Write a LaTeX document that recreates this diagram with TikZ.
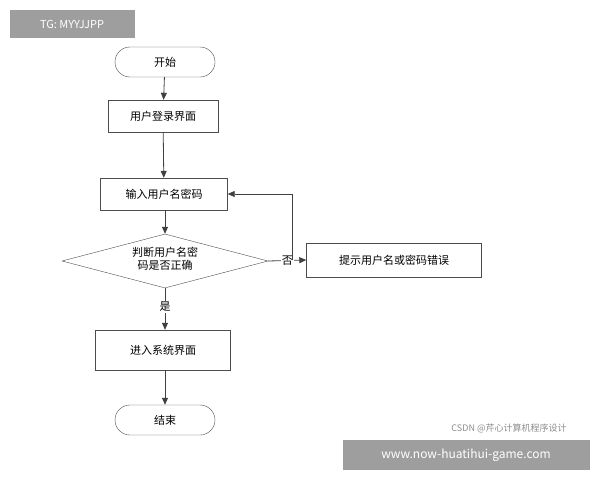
\documentclass[tikz,border=0pt]{standalone}
\usepackage{fontspec}
\setmainfont{Noto Sans CJK SC}
\usetikzlibrary{shapes.geometric,arrows.meta}
\begin{document}
\begin{tikzpicture}[x=1pt,y=-1pt,
  box/.style={draw=black!70,fill=white,minimum height=32pt,inner sep=2pt,font=\fontsize{11}{13}\selectfont},
  term/.style={box,rounded corners=15pt,minimum width=100pt,minimum height=30pt},
  arr/.style={-{Triangle[length=7pt,width=6pt]},line width=0.8pt,draw=black!75},
  tag/.style={fill=black!38,text=white,font=\fontsize{11}{13}\selectfont,inner sep=0pt}]
\useasboundingbox (0,0) rectangle (600,480);
\node[tag,minimum width=125pt,minimum height=28pt] (tg) at (72,24) {TG: MYYJJPP};
\node[term] (start) at (165,62) {开始};
\node[box,minimum width=110pt] (login) at (163,116) {用户登录界面};
\node[box,minimum width=127pt] (input) at (164,194) {输入用户名密码};
\node[diamond,draw=black!70,minimum width=206pt,minimum height=54pt,aspect=3.8,inner sep=0pt,align=center,font=\fontsize{11}{13}\selectfont] (judge) at (165,261) {};
\node[font=\fontsize{11}{13}\selectfont,align=center] (jt) at (165,259) {判断用户名密\\码是否正确};
\node[box,minimum width=175pt,minimum height=34pt] (err) at (394,260) {提示用户名或密码错误};
\node[box,minimum width=135pt,minimum height=40pt] (enter) at (163,350) {进入系统界面};
\node[term] (end) at (165,420) {结束};
\coordinate (turn) at (292,260);
\coordinate (top) at (292,194);
\draw[arr] (start) -- (login);
\draw[arr] (login) -- (input);
\draw[arr] (input.south -| judge.north) -- (judge.north);
\draw[arr] (judge.east) -- node[fill=white,inner sep=1pt,pos=0.5,font=\fontsize{11}{13}\selectfont] (no) {否} (err.west);
\draw[arr] (turn) -- (top) -- (input.east);
\draw[arr] (judge.south) -- node[fill=white,inner sep=1pt,pos=0.45,font=\fontsize{11}{13}\selectfont] (yes) {是} (enter.north -| judge.south);
\draw[arr] (enter.south -| end.north) -- (end.north);
\node[text=black!45,font=\fontsize{9}{11}\selectfont] (wm) at (509,428) {CSDN @芹心计算机程序设计};
\node[tag,minimum width=247pt,minimum height=30pt,font=\fontsize{12}{14}\selectfont] (url) at (466,455) {www.now-huatihui-game.com};
\end{tikzpicture}
\end{document}
